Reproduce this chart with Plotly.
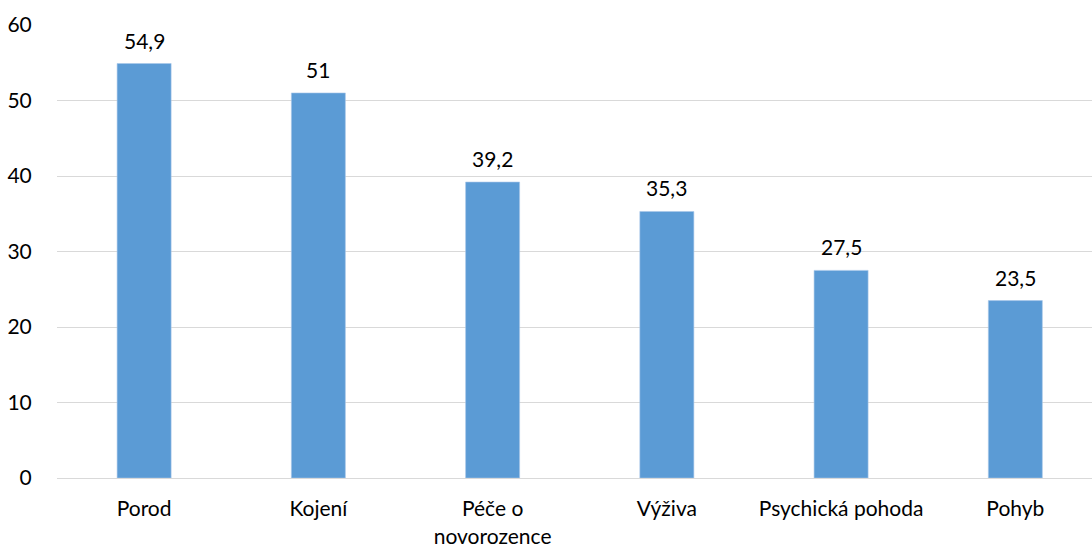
import plotly.graph_objects as go

categories = ["Porod", "Kojení", "Péče o<br>novorozence", "Výživa", "Psychická pohoda", "Pohyb"]
values = [54.9, 51, 39.2, 35.3, 27.5, 23.5]
y_ticks = [0, 10, 20, 30, 40, 50, 60]

def fmt(v):
    s = ("%g" % v)
    return s.replace(".", ",")

FONT = "Lato, Open Sans, sans-serif"
FS = 21

fig = go.Figure()
fig.add_trace(go.Bar(
    x=categories, y=values, width=0.31,
    marker=dict(color="#5b9bd5", line=dict(color="#a9c8ea", width=0.6)),
    hoverinfo="skip",
))
for c, v in zip(categories, values):
    fig.add_annotation(x=c, y=v, text=fmt(v), showarrow=False, yanchor="bottom",
                       yshift=9, font=dict(family=FONT, size=FS, color="#000000"))

fig.update_layout(
    width=1092, height=548,
    margin=dict(l=57, r=0, t=25, b=70, autoexpand=False),
    paper_bgcolor="white", plot_bgcolor="white",
    showlegend=False,
    font=dict(family=FONT, size=FS, color="#000000"),
)
fig.update_xaxes(
    range=[-0.5, 5.44], showgrid=False, showline=False, zeroline=False, automargin=False,
    tickfont=dict(family=FONT, size=FS, color="#000000"),
    ticks="outside", ticklen=12, tickcolor="rgba(0,0,0,0)",
)
fig.update_yaxes(
    range=[0, 60], tickvals=y_ticks, showgrid=True, gridcolor="#d9d9d9", gridwidth=1.3,
    zeroline=True, zerolinecolor="#d9d9d9", zerolinewidth=1.3, showline=False, automargin=False,
    tickfont=dict(family=FONT, size=FS, color="#000000"),
    ticks="outside", ticklen=20, tickcolor="rgba(0,0,0,0)",
)

fig.write_html("out.html", config={"displayModeBar": False},
               post_script="document.body.style.margin='0';document.body.style.overflow='hidden';")
